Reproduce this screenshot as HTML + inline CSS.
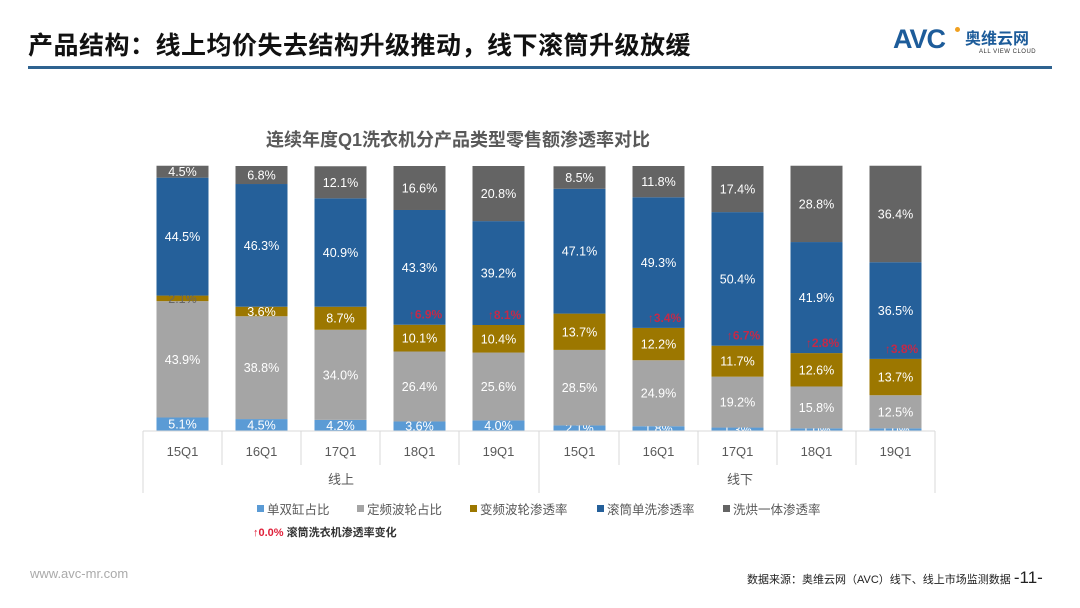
<!DOCTYPE html>
<html><head><meta charset="utf-8">
<style>
body{margin:0;width:1080px;height:608px;background:#fff;position:relative;overflow:hidden;font-family:"Liberation Sans","Noto Sans CJK SC",sans-serif}
.abs{position:absolute}
</style></head><body>
<div class="abs" style="left:28px;top:26px;font-size:25px;font-weight:bold;color:#111;letter-spacing:0.5px">产品结构：线上均价失去结构升级推动，线下滚筒升级放缓</div>
<div class="abs" style="left:28px;top:66px;width:1024px;height:3px;background:#2f6390"></div>
<div class="abs" style="left:893px;top:24px;width:165px;height:34px">
 <span style="position:absolute;left:0;top:0;font-size:27px;font-weight:bold;color:#1d5c9a;letter-spacing:-1px">AVC</span>
 <span style="position:absolute;left:62px;top:3px;width:5px;height:5px;border-radius:50%;background:#f0a020"></span>
 <span style="position:absolute;left:72px;top:1px;font-size:16px;font-weight:bold;color:#1d5c9a">奥维云网</span>
 <span style="position:absolute;left:86px;top:25px;font-size:6px;color:#333;letter-spacing:0.5px">ALL VIEW CLOUD</span>
</div>
<div class="abs" style="left:30px;top:566px;font-size:13px;color:#aaa">www.avc-mr.com</div>
<div class="abs" style="left:747px;top:568px;font-size:11px;color:#222">数据来源：奥维云网（AVC）线下、线上市场监测数据 <span style="font-size:17px">-11-</span></div>
<svg class="abs" style="left:0;top:0" width="1080" height="608" id="chart"></svg>
<script>
const categories=["15Q1","16Q1","17Q1","18Q1","19Q1","15Q1","16Q1","17Q1","18Q1","19Q1"];
const groups=["线上","线下"];
const seriesNames=["单双缸占比","定频波轮占比","变频波轮渗透率","滚筒单洗渗透率","洗烘一体渗透率"];
const sTwin=[5.1,4.5,4.2,3.6,4.0,2.1,1.8,1.3,1.0,1.0];
const sFixed=[43.9,38.8,34.0,26.4,25.6,28.5,24.9,19.2,15.8,12.5];
const sInv=[2.1,3.6,8.7,10.1,10.4,13.7,12.2,11.7,12.6,13.7];
const sDrum=[44.5,46.3,40.9,43.3,39.2,47.1,49.3,50.4,41.9,36.5];
const sDryer=[4.5,6.8,12.1,16.6,20.8,8.5,11.8,17.4,28.8,36.4];
const changeIdx=[3,4,6,7,8,9];
const changeLabels=["↑6.9%","↑8.1%","↑3.4%","↑6.7%","↑2.8%","↑3.8%"];
const colors=["#5b9bd5","#a5a5a5","#9c7700","#25609a","#646464"];
const NS="http://www.w3.org/2000/svg";
const svg=document.getElementById('chart');
const x0=143,step=79,bw=52,yb=431,ht=265;
const xc=i=>x0+step*i+step/2+(i>=5?2:0);
const ys=v=>yb-v/100*ht;
function mk(t,a,p){const e=document.createElementNS(NS,t);for(const k in a)e.setAttribute(k,a[k]);(p||svg).appendChild(e);return e;}
let t=mk('text',{x:458,y:146,'text-anchor':'middle','font-size':18,'font-weight':'bold',fill:'#595959'});t.textContent="连续年度Q1洗衣机分产品类型零售额渗透率对比";


const series=[sTwin,sFixed,sInv,sDrum,sDryer];
categories.forEach((c,i)=>{
 let cum=0;
 series.forEach((s,k)=>{
  const v=s[i];const y1=ys(cum+v),y0=ys(cum);
  const r=mk('rect',{x:xc(i)-bw/2,y:y1,width:bw,height:y0-y1,fill:colors[k]});
  
  
  const lt=mk('text',{x:xc(i),y:(y1+y0)/2+4.5,'text-anchor':'middle','font-size':12.5,fill:(k==2&&v<3?'#666':'#fff')});
  lt.textContent=v.toFixed(1)+"%";
  
  
  cum+=v;
 });
 const xl=mk('text',{x:xc(i),y:456,'text-anchor':'middle','font-size':13,fill:'#595959'});xl.textContent=c;
 
 
});
changeIdx.forEach((i,j)=>{
 let cum=sTwin[i]+sFixed[i]+sInv[i];
 const ct=mk('text',{x:xc(i)+6,y:ys(cum)-6,'text-anchor':'middle','font-size':12,'font-weight':'bold',fill:'#e0203a',opacity:0.85});
 ct.textContent=changeLabels[j];
 
 
});
mk('line',{x1:143,y1:431,x2:935,y2:431,stroke:'#d9d9d9'});
for(let i=0;i<=10;i++){const x=x0+step*i+(i>5?2:0)+(i==5?1:0);mk('line',{x1:x,y1:431,x2:x,y2:(i==0||i==5||i==10)?493:465,stroke:'#d9d9d9'});}
groups.forEach((g,j)=>{const gt=mk('text',{x:j==0?341:740,y:484,'text-anchor':'middle','font-size':13,fill:'#595959'});gt.textContent=g;
 
 });
const lx=[257,357,470,597,723];
seriesNames.forEach((n,k)=>{
 mk('rect',{x:lx[k],y:505,width:7,height:7,fill:colors[k]});
 const tt=mk('text',{x:lx[k]+10,y:514,'font-size':12.5,fill:'#595959'});tt.textContent=n;
 
 
});
const note=mk('text',{x:253,y:536,'font-size':11,'font-weight':'bold',fill:'#333'});
note.innerHTML='<tspan fill="#e0203a">↑0.0%</tspan> 滚筒洗衣机渗透率变化';


</script>
</body></html>
